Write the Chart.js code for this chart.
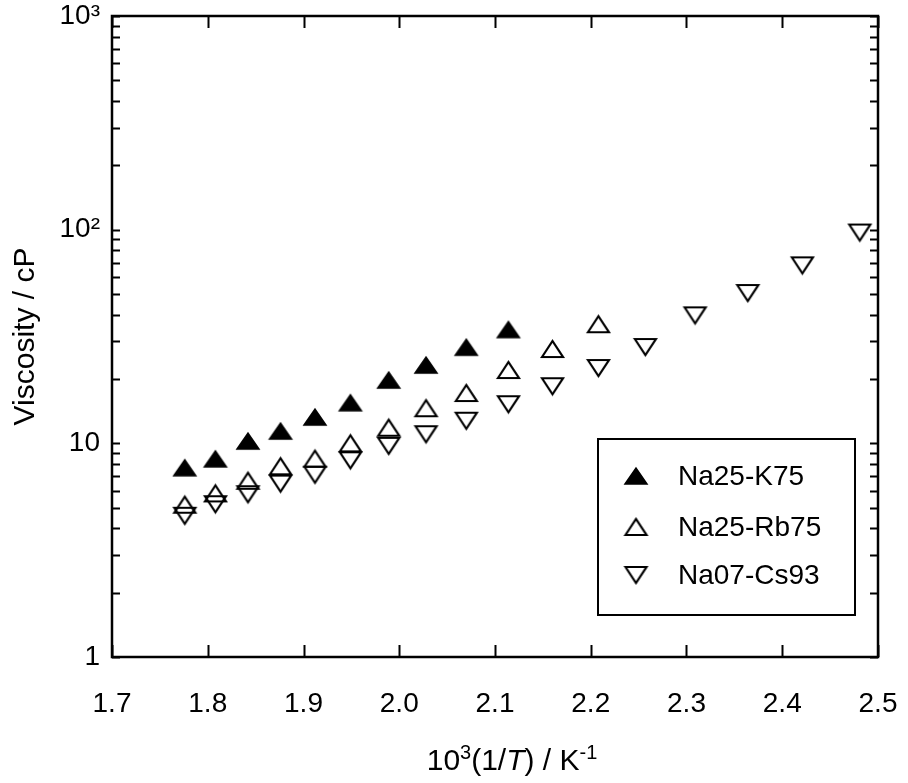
<!DOCTYPE html>
<html><head><meta charset="utf-8">
<script src="https://cdn.jsdelivr.net/npm/chart.js@4/dist/chart.umd.min.js"></script>
<style>html,body{margin:0;padding:0;background:#fff;}canvas{display:block;}</style>
</head><body>
<canvas id="c" width="908" height="783"></canvas>
<script>
// ---- data ----
const seriesNames = ['Na25-K75', 'Na25-Rb75', 'Na07-Cs93'];
const xK75 = [1.776, 1.808, 1.842, 1.876, 1.912, 1.949, 1.989, 2.028, 2.070, 2.114];
const yK75 = [7.69, 8.46, 10.25, 11.42, 13.28, 15.49, 19.78, 23.25, 28.17, 34.08];
const xRb75 = [1.776, 1.808, 1.842, 1.876, 1.912, 1.949, 1.989, 2.028, 2.070, 2.114, 2.160, 2.208];
const yRb75 = [5.16, 5.83, 6.68, 7.81, 8.47, 10.00, 11.83, 14.60, 17.20, 22.03, 27.63, 36.09];
const xCs93 = [1.776, 1.808, 1.842, 1.876, 1.912, 1.949, 1.989, 2.028, 2.070, 2.114, 2.160, 2.208, 2.257, 2.309, 2.364, 2.421, 2.481];
const yCs93 = [4.58, 5.19, 5.78, 6.48, 7.13, 8.33, 9.73, 11.03, 12.76, 15.24, 18.50, 22.51, 28.23, 39.72, 50.51, 68.08, 96.94];
const xTickValues = [1.7, 1.8, 1.9, 2.0, 2.1, 2.2, 2.3, 2.4, 2.5];
const yTickValues = [1, 10, 100, 1000];
const yTickLabels = ['1', '10', '10²', '10³'];
const yTitle = 'Viscosity / cP';

const FONT = '"Liberation Sans", Arial, Helvetica, sans-serif';
Chart.defaults.font.family = FONT;
Chart.defaults.color = '#000';

function makeTri(dir, filled, w, h, lw) {
  const c = document.createElement('canvas');
  const pad = Math.ceil(lw) + 1;
  c.width = Math.round(w + 2 * pad); c.height = Math.round(h + 2 * pad);
  const ctx = c.getContext('2d');
  ctx.beginPath();
  if (dir === 'up') { ctx.moveTo(pad, pad + h); ctx.lineTo(pad + w / 2, pad); ctx.lineTo(pad + w, pad + h); }
  else { ctx.moveTo(pad, pad); ctx.lineTo(pad + w / 2, pad + h); ctx.lineTo(pad + w, pad); }
  ctx.closePath();
  ctx.lineJoin = 'miter';
  if (filled) { ctx.fillStyle = '#000'; ctx.fill(); }
  ctx.lineWidth = lw; ctx.strokeStyle = '#000'; ctx.stroke();
  return c;
}
const mkFilledUp = makeTri('up', true, 22, 16, 1.5);
const mkOpenUp = makeTri('up', false, 21, 16, 2.2);
const mkOpenDown = makeTri('down', false, 21, 16, 2.2);
const markers = [mkFilledUp, mkOpenUp, mkOpenDown];

const toPts = (xs, ys) => xs.map((x, i) => ({ x: x, y: ys[i] }));
const seriesX = [xK75, xRb75, xCs93];
const seriesY = [yK75, yRb75, yCs93];

const frameTicks = {
  id: 'frameTicks',
  afterDatasetsDraw(chart) {
    const { ctx, chartArea: a, scales } = chart;
    const xs = scales.x, ys = scales.y;
    ctx.save();
    ctx.strokeStyle = '#000';
    ctx.lineCap = 'butt';
    ctx.lineWidth = 2;
    ctx.beginPath();
    xTickValues.forEach(v => {
      const px = Math.round(xs.getPixelForValue(v)) + 0.5;
      ctx.moveTo(px, a.bottom); ctx.lineTo(px, a.bottom - 12);
      ctx.moveTo(px, a.top); ctx.lineTo(px, a.top + 12);
    });
    for (let d = 0; d < yTickValues.length; d++) {
      const base = yTickValues[d];
      for (let k = 1; k <= 9; k++) {
        const v = base * k;
        if (k > 1 && d === yTickValues.length - 1) break;
        const py = Math.round(ys.getPixelForValue(v)) + 0.5;
        const len = 8;
        ctx.moveTo(a.left, py); ctx.lineTo(a.left + len, py);
        ctx.moveTo(a.right, py); ctx.lineTo(a.right - len, py);
      }
    }
    ctx.stroke();
    ctx.lineWidth = 2.5;
    ctx.strokeRect(a.left, a.top, a.right - a.left, a.bottom - a.top);
    ctx.restore();
  }
};

const boxLegend = {
  id: 'boxLegend',
  afterDraw(chart) {
    const { ctx, chartArea: a } = chart;
    const bx = a.right - 280, by = a.top + 423, bw = 257, bh = 176;
    ctx.save();
    ctx.fillStyle = '#fff';
    ctx.fillRect(bx, by, bw, bh);
    ctx.lineWidth = 2;
    ctx.strokeStyle = '#000';
    ctx.strokeRect(bx, by, bw, bh);
    const rows = [37, 88, 136];
    ctx.font = '28px ' + FONT;
    ctx.fillStyle = '#000';
    ctx.textBaseline = 'middle';
    ctx.textAlign = 'left';
    chart.data.datasets.forEach((ds, i) => {
      const img = markers[i];
      const cy = by + rows[i];
      ctx.drawImage(img, bx + 38 - img.width / 2, cy - img.height / 2);
      ctx.fillText(ds.label, bx + 80, cy + 1);
    });
    ctx.restore();
  }
};

const xTitle = {
  id: 'xTitle',
  afterDraw(chart) {
    const { ctx, chartArea: a } = chart;
    const size = 30, sup = 20;
    const parts = [
      { t: '10', f: size + 'px ' + FONT, dy: 0 },
      { t: '3', f: sup + 'px ' + FONT, dy: -11 },
      { t: '(1/', f: size + 'px ' + FONT, dy: 0 },
      { t: 'T', f: 'italic ' + size + 'px ' + FONT, dy: 0 },
      { t: ') / K', f: size + 'px ' + FONT, dy: 0 },
      { t: '-1', f: sup + 'px ' + FONT, dy: -11 }
    ];
    ctx.save();
    ctx.fillStyle = '#000';
    ctx.textBaseline = 'alphabetic';
    ctx.textAlign = 'left';
    let total = 0;
    parts.forEach(p => { ctx.font = p.f; p.w = ctx.measureText(p.t).width; total += p.w; });
    let x = (a.left + a.right) / 2 + 17 - total / 2;
    const baseY = a.bottom + 113;
    parts.forEach(p => { ctx.font = p.f; ctx.fillText(p.t, x, baseY + p.dy); x += p.w; });
    ctx.restore();
  }
};

new Chart(document.getElementById('c'), {
  type: 'scatter',
  data: {
    datasets: seriesNames.map((name, i) => ({
      label: name,
      data: toPts(seriesX[i], seriesY[i]),
      pointStyle: markers[i],
      showLine: false
    }))
  },
  options: {
    responsive: false,
    animation: false,
    devicePixelRatio: 1,
    layout: { padding: { top: 16, right: 30, left: 0, bottom: 0 } },
    plugins: { legend: { display: false }, tooltip: { enabled: false } },
    scales: {
      x: {
        type: 'linear', min: 1.7, max: 2.5,
        afterBuildTicks: s => { s.ticks = xTickValues.map(v => ({ value: v })); },
        afterFit: s => { s.height = 126; s.paddingLeft = 0; s.paddingRight = 0; },
        grid: { display: false, drawTicks: false },
        border: { display: false },
        ticks: { autoSkip: false, maxRotation: 0, padding: 30, font: { size: 28 }, color: '#000',
          callback: v => Number(v).toFixed(1) }
      },
      y: {
        type: 'logarithmic', min: 1, max: 1000,
        afterBuildTicks: s => { s.ticks = yTickValues.map(v => ({ value: v })); },
        afterFit: s => { s.width = 112; s.paddingTop = 0; s.paddingBottom = 0; },
        grid: { display: false, drawTicks: false },
        border: { display: false },
        ticks: { autoSkip: false, padding: 12, font: { size: 28 }, color: '#000',
          callback: (v) => yTickLabels[yTickValues.indexOf(v)] ?? '' },
        title: { display: true, text: yTitle, font: { size: 30 }, color: '#000', padding: { top: 8, bottom: 0 } }
      }
    }
  },
  plugins: [frameTicks, boxLegend, xTitle]
});
</script>
</body></html>
